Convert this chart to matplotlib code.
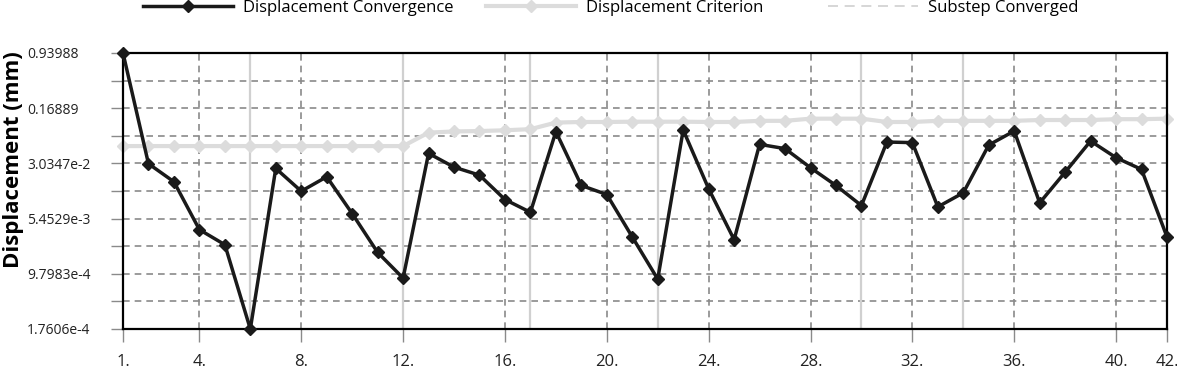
import numpy as np
import matplotlib
matplotlib.use('Agg')
import matplotlib.pyplot as plt
from matplotlib.lines import Line2D

plt.rcParams['font.family'] = ['Open Sans', 'DejaVu Sans']

# Data
steps = list(range(1, 43))
disp_convergence = [
    0.93988, 3.006e-2, 1.714e-2, 3.868e-3, 2.421e-3, 1.7606e-4, 2.596e-2, 1.278e-2,
    2.002e-2, 6.374e-3, 1.905e-3, 8.568e-4, 4.146e-2, 2.703e-2, 2.106e-2, 9.865e-3,
    6.637e-3, 8.155e-2, 1.527e-2, 1.153e-2, 3.080e-3, 8.304e-4, 8.577e-2, 1.378e-2,
    2.830e-3, 5.490e-2, 4.801e-2, 2.652e-2, 1.527e-2, 8.177e-3, 5.898e-2, 5.789e-2,
    7.852e-3, 1.216e-2, 5.371e-2, 8.312e-2, 8.898e-3, 2.312e-2, 6.085e-2, 3.625e-2,
    2.516e-2, 3.080e-3,
]
disp_criterion = [
    0.052, 0.052, 0.052, 0.052, 0.052, 0.052, 0.052, 0.052, 0.052, 0.052, 0.052, 0.052,
    0.079, 0.082, 0.083, 0.085, 0.088, 0.108, 0.110, 0.110, 0.111, 0.111, 0.111, 0.110,
    0.110, 0.114, 0.114, 0.122, 0.122, 0.122, 0.110, 0.110, 0.114, 0.114, 0.114, 0.114,
    0.117, 0.117, 0.117, 0.120, 0.120, 0.122,
]
substep_converged = [6, 12, 17, 22, 30, 34]

x_ticks = [1, 4, 8, 12, 16, 20, 24, 28, 32, 36, 40, 42]
x_ticklabels = ['1.', '4.', '8.', '12.', '16.', '20.', '24.', '28.', '32.', '36.', '40.', '42.']
y_ticks = [1.7606e-4, 9.7983e-4, 5.4529e-3, 3.0347e-2, 0.16889, 0.93988]
y_ticklabels = ['1.7606e-4', '9.7983e-4', '5.4529e-3', '3.0347e-2', '0.16889', '0.93988']

W, H = 1177, 369
fig = plt.figure(figsize=(W / 100, H / 100), dpi=100)
ax = fig.add_axes([123 / W, 1 - 329 / H, 1044 / W, 276 / H])
ax.set_yscale('log')

# minor levels sit halfway (in log) between the labelled ones
y_minor = [np.sqrt(a * b) for a, b in zip(y_ticks[:-1], y_ticks[1:])]

grid_kw = dict(color='#8a8a8a', lw=1.2, ls=(0, (4, 3)), zorder=1)
for y in y_ticks[1:-1] + y_minor:
    ax.axhline(y, **grid_kw)
for x in x_ticks[1:-1]:
    ax.axvline(x, **grid_kw)

for x in substep_converged:
    ax.axvline(x, color='#d0d0d0', lw=1.6, zorder=1.5)

ax.plot(steps, disp_criterion, color='#dcdcdc', lw=3, marker='D', ms=6,
        mec='#dcdcdc', zorder=2, clip_on=False)
ax.plot(steps, disp_convergence, color='#1a1a1a', lw=2.5, marker='D', ms=6,
        zorder=3, clip_on=False)

ax.set_xlim(1, 42)
ax.set_ylim(y_ticks[0], y_ticks[-1])
ax.set_xticks(x_ticks)
ax.set_xticklabels(x_ticklabels)
ax.set_yticks(y_ticks)
ax.set_yticklabels(y_ticklabels)
ax.set_yticks(y_minor, minor=True)
ax.yaxis.set_minor_formatter(matplotlib.ticker.NullFormatter())
ax.tick_params(axis='both', which='both', direction='out', length=9, width=1,
               color='#8a8a8a', labelsize=10, labelcolor='#222222')
ax.tick_params(axis='x', pad=9, labelsize=12)
# y labels are left aligned at about x=27px in the reference
ax.tick_params(axis='y', pad=(123 - 12.5 - 27) * 0.72)
for lab in ax.get_yticklabels():
    lab.set_horizontalalignment('left')

for sp in ax.spines.values():
    sp.set_color('black')
    sp.set_linewidth(1.6)

ax.set_ylabel('Displacement (mm)', fontsize=16, fontweight='bold')
ax.yaxis.set_label_coords((24 - 123) / 1044, (329 - 160) / 276)

legend_items = [
    (Line2D([], [], color='#1a1a1a', lw=2.5, marker='D', ms=6), 'Displacement Convergence', 143),
    (Line2D([], [], color='#dcdcdc', lw=3, marker='D', ms=6, mec='#dcdcdc'), 'Displacement Criterion', 486),
    (Line2D([], [], color='#d0d0d0', lw=1.2, ls=(0, (6, 4))), 'Substep Converged', 828),
]
for h, txt, x0 in legend_items:
    fig.legend([h], [txt], loc='center left', bbox_to_anchor=(x0 / W, 1 - 8 / H),
               frameon=False, fontsize=12, handlelength=5.4, handletextpad=0.6,
               borderpad=0, borderaxespad=0)

fig.savefig('out.png', dpi=100)
